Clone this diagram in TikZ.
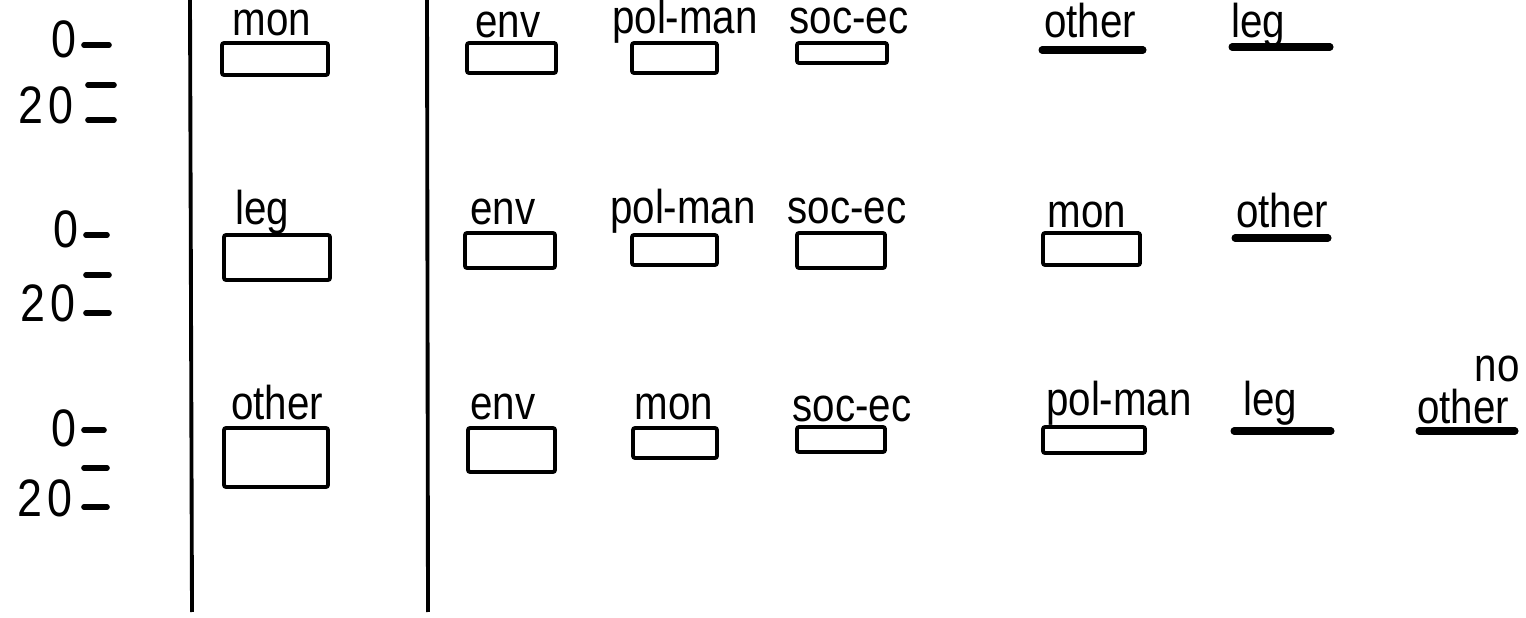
\documentclass[tikz,border=0pt]{standalone}
\usepackage{fontspec}
\setmainfont[FakeStretch=0.85]{Liberation Sans}
\tikzset{
    lab/.style={anchor=base,inner sep=0pt,font=\fontsize{13.5}{15}\selectfont},
    num/.style={anchor=center,inner sep=0pt,font=\fontsize{15}{17}\selectfont},
    bar/.style={line width=1.1pt,rounded corners=0.6pt},
    nobar/.style={line width=2pt,line cap=round},
    tick/.style={line width=1.6pt,line cap=round},
    rule/.style={line width=1.1pt}
}

\begin{document}
\begin{tikzpicture}[x=0.1mm,y=-0.1mm]
                \useasboundingbox (0,0) rectangle (1526,618);
                % scales
                \node[num] (z1) at (64,39) {0};
                \node[num] (t1) at (46,105) {2\kern1.5pt0};
                \node[num] (z2) at (66,229) {0};
                \node[num] (t2) at (48,303) {2\kern1.5pt0};
                \node[num] (z3) at (64,428) {0};
                \node[num] (t3) at (45,498) {2\kern1.5pt0};
                \draw[tick] (84,45) -- (109,45);
                \draw[tick] (88,85) -- (114,85);
                \draw[tick] (88,120) -- (114,120);
                \draw[tick] (86,235) -- (107,235);
                \draw[tick] (86,275) -- (109,275);
                \draw[tick] (86,313) -- (109,313);
                \draw[tick] (84,430) -- (104,430);
                \draw[tick] (84,468) -- (107,468);
                \draw[tick] (84,507) -- (107,507);
                % dividers
                \draw[rule] (190,0) -- (192,612);
                \draw[rule] (427,0) -- (428,612);
                % row 1
                \node[lab] (r1mon) at (272,36) {mon};
                \draw[bar] (222,43) rectangle (328,75);
                \node[lab] (r1env) at (508,38) {env};
                \draw[bar] (467,43) rectangle (556,73);
                \node[lab] (r1pol) at (685,34) {pol-man};
                \draw[bar] (632,43) rectangle (717,73);
                \node[lab] (r1soc) at (849,34) {soc-ec};
                \draw[bar] (797,43) rectangle (887,63);
                \node[lab] (r1oth) at (1090,38) {other};
                \draw[nobar] (1042,50) -- (1143,50);
                \node[lab] (r1leg) at (1258,38) {leg};
                \draw[nobar] (1232,47) -- (1330,47);
                % row 2
                \node[lab] (r2leg) at (262,225) {leg};
                \draw[bar] (224,235) rectangle (330,280);
                \node[lab] (r2env) at (503,225) {env};
                \draw[bar] (465,233) rectangle (555,268);
                \node[lab] (r2pol) at (683,224) {pol-man};
                \draw[bar] (632,235) rectangle (717,265);
                \node[lab] (r2soc) at (847,224) {soc-ec};
                \draw[bar] (797,233) rectangle (885,268);
                \node[lab] (r2mon) at (1087,228) {mon};
                \draw[bar] (1043,233) rectangle (1140,265);
                \node[lab] (r2oth) at (1282,228) {other};
                \draw[nobar] (1235,238) -- (1328,238);
                % row 3
                \node[lab] (r3oth) at (277,420) {other};
                \draw[bar] (224,428) rectangle (328,487);
                \node[lab] (r3env) at (503,420) {env};
                \draw[bar] (468,428) rectangle (555,472);
                \node[lab] (r3mon) at (674,420) {mon};
                \draw[bar] (633,428) rectangle (717,458);
                \node[lab] (r3soc) at (852,422) {soc-ec};
                \draw[bar] (797,427) rectangle (885,452);
                \node[lab] (r3pol) at (1119,416) {pol-man};
                \draw[bar] (1043,427) rectangle (1145,453);
                \node[lab] (r3leg) at (1270,416) {leg};
                \draw[nobar] (1234,431) -- (1331,431);
                \node[lab] (r3no) at (1497,382) {no};
                \node[lab] (r3none) at (1463,424) {other};
                \draw[nobar] (1419,431) -- (1515,431);
            \end{tikzpicture}
\end{document}
